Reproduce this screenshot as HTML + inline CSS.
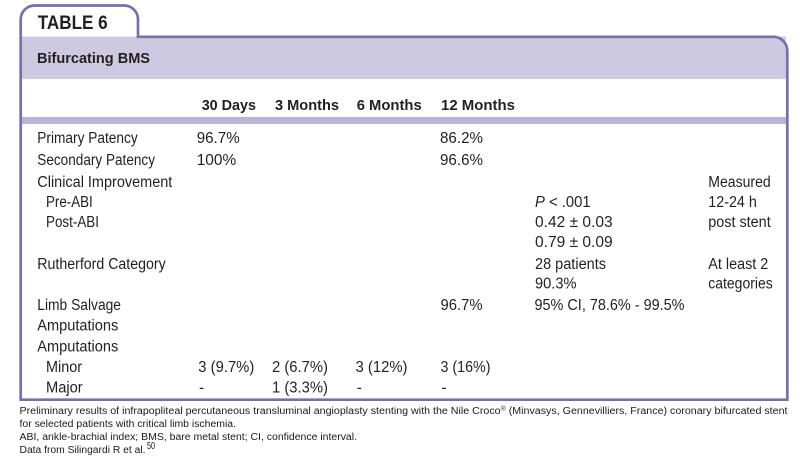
<!DOCTYPE html>
<html>
<head>
<meta charset="utf-8">
<style>
  html, body { margin: 0; padding: 0; background: #ffffff; }
  svg { display: block; }
  .t { font-family: "Liberation Sans", sans-serif; fill: #231f20; }
  .b { font-weight: bold; }
  .r { font-size: 15.5px; }
  .h { font-size: 15px; font-weight: bold; }
  .f { font-size: 10px; fill: #1a1a1a; }
</style>
</head>
<body>
<svg width="800" height="465" viewBox="0 0 800 465" xmlns="http://www.w3.org/2000/svg">
  <rect x="0" y="0" width="800" height="465" fill="#ffffff"/>
  <!-- header band -->
  <rect x="22" y="36.5" width="764" height="42.5" fill="#cdc9e1"/>
  <!-- separator band -->
  <rect x="22" y="117" width="764" height="7" fill="#bbb4d7"/>
  <!-- outline -->
  <path d="M20.7,399.7 L20.7,19.5 A14,14 0 0 1 34.7,5.5 L124,5.5 A14,14 0 0 1 138,19.5 L138,36.8 L773,36.8 A14,14 0 0 1 787.3,50.8 L787.3,399.7 Z"
        fill="none" stroke="#7a6fab" stroke-width="2.7"/>

  <!-- Title -->
  <text class="t b" x="37.7" y="29" font-size="19.5" textLength="70" lengthAdjust="spacingAndGlyphs">TABLE 6</text>
  <text class="t b" x="37" y="63" font-size="15" textLength="113" lengthAdjust="spacingAndGlyphs">Bifurcating BMS</text>

  <!-- Column headers -->
  <text class="t h" x="201.7" y="110" textLength="54.3" lengthAdjust="spacingAndGlyphs">30 Days</text>
  <text class="t h" x="275" y="110" textLength="64" lengthAdjust="spacingAndGlyphs">3 Months</text>
  <text class="t h" x="356.7" y="110" textLength="65" lengthAdjust="spacingAndGlyphs">6 Months</text>
  <text class="t h" x="441" y="110" textLength="74" lengthAdjust="spacingAndGlyphs">12 Months</text>

  <!-- Rows -->
  <text class="t r" x="37.3" y="143" textLength="100.4" lengthAdjust="spacingAndGlyphs">Primary Patency</text>
  <text class="t r" x="196.7" y="143" textLength="43" lengthAdjust="spacingAndGlyphs">96.7%</text>
  <text class="t r" x="440" y="143" textLength="43" lengthAdjust="spacingAndGlyphs">86.2%</text>

  <text class="t r" x="37.3" y="165" textLength="117.7" lengthAdjust="spacingAndGlyphs">Secondary Patency</text>
  <text class="t r" x="196.7" y="165" textLength="39.5" lengthAdjust="spacingAndGlyphs">100%</text>
  <text class="t r" x="440" y="165" textLength="43" lengthAdjust="spacingAndGlyphs">96.6%</text>

  <text class="t r" x="37.3" y="187" textLength="135" lengthAdjust="spacingAndGlyphs">Clinical Improvement</text>
  <text class="t r" x="708.3" y="187" textLength="62.4" lengthAdjust="spacingAndGlyphs">Measured</text>

  <text class="t r" x="46" y="207" textLength="46.7" lengthAdjust="spacingAndGlyphs">Pre-ABI</text>
  <text class="t r" x="535" y="207" textLength="55.7" lengthAdjust="spacingAndGlyphs"><tspan font-style="italic">P</tspan> &lt; .001</text>
  <text class="t r" x="708.3" y="207" textLength="48.5" lengthAdjust="spacingAndGlyphs">12-24 h</text>

  <text class="t r" x="46" y="227" textLength="53" lengthAdjust="spacingAndGlyphs">Post-ABI</text>
  <text class="t r" x="535" y="227" textLength="77.7" lengthAdjust="spacingAndGlyphs">0.42 ± 0.03</text>
  <text class="t r" x="708.3" y="227" textLength="62.4" lengthAdjust="spacingAndGlyphs">post stent</text>

  <text class="t r" x="535" y="247" textLength="77.7" lengthAdjust="spacingAndGlyphs">0.79 ± 0.09</text>

  <text class="t r" x="37.3" y="269" textLength="128.4" lengthAdjust="spacingAndGlyphs">Rutherford Category</text>
  <text class="t r" x="535" y="269" textLength="71" lengthAdjust="spacingAndGlyphs">28 patients</text>
  <text class="t r" x="708.3" y="269" textLength="60" lengthAdjust="spacingAndGlyphs">At least 2</text>

  <text class="t r" x="535" y="288.5" textLength="41.5" lengthAdjust="spacingAndGlyphs">90.3%</text>
  <text class="t r" x="708.3" y="288.5" textLength="64.4" lengthAdjust="spacingAndGlyphs">categories</text>

  <text class="t r" x="37.3" y="310" textLength="83.7" lengthAdjust="spacingAndGlyphs">Limb Salvage</text>
  <text class="t r" x="440.5" y="310" textLength="42" lengthAdjust="spacingAndGlyphs">96.7%</text>
  <text class="t r" x="534.5" y="310" textLength="150" lengthAdjust="spacingAndGlyphs">95% CI, 78.6% - 99.5%</text>

  <text class="t r" x="37.3" y="330.5" textLength="81" lengthAdjust="spacingAndGlyphs">Amputations</text>
  <text class="t r" x="37.3" y="351.5" textLength="81" lengthAdjust="spacingAndGlyphs">Amputations</text>

  <text class="t r" x="46" y="372" textLength="36" lengthAdjust="spacingAndGlyphs">Minor</text>
  <text class="t r" x="198.3" y="372" textLength="56" lengthAdjust="spacingAndGlyphs">3 (9.7%)</text>
  <text class="t r" x="272" y="372" textLength="56" lengthAdjust="spacingAndGlyphs">2 (6.7%)</text>
  <text class="t r" x="355.5" y="372" textLength="52" lengthAdjust="spacingAndGlyphs">3 (12%)</text>
  <text class="t r" x="440.5" y="372" textLength="50" lengthAdjust="spacingAndGlyphs">3 (16%)</text>

  <text class="t r" x="46" y="392.5" textLength="36.7" lengthAdjust="spacingAndGlyphs">Major</text>
  <text class="t r" x="199" y="392.5">-</text>
  <text class="t r" x="272" y="392.5" textLength="56" lengthAdjust="spacingAndGlyphs">1 (3.3%)</text>
  <text class="t r" x="356.7" y="392.5">-</text>
  <text class="t r" x="441.5" y="392.5">-</text>

  <!-- Footnotes -->
  <text class="t f" x="19.5" y="414" textLength="768" lengthAdjust="spacingAndGlyphs">Preliminary results of infrapopliteal percutaneous transluminal angioplasty stenting with the Nile Croco<tspan font-size="6.5" dy="-3.5">®</tspan><tspan dy="3.5"> (Minvasys, Gennevilliers, France) coronary bifurcated stent</tspan></text>
  <text class="t f" x="19.5" y="427" textLength="216.5" lengthAdjust="spacingAndGlyphs">for selected patients with critical limb ischemia.</text>
  <text class="t f" x="19.5" y="440" textLength="337.5" lengthAdjust="spacingAndGlyphs">ABI, ankle-brachial index; BMS, bare metal stent; CI, confidence interval.</text>
  <text class="t f" x="19.5" y="453" textLength="126" lengthAdjust="spacingAndGlyphs">Data from Silingardi R et al.</text>
  <text class="t f" x="147" y="449" font-size="6.5" textLength="8" lengthAdjust="spacingAndGlyphs">50</text>
</svg>
</body>
</html>
